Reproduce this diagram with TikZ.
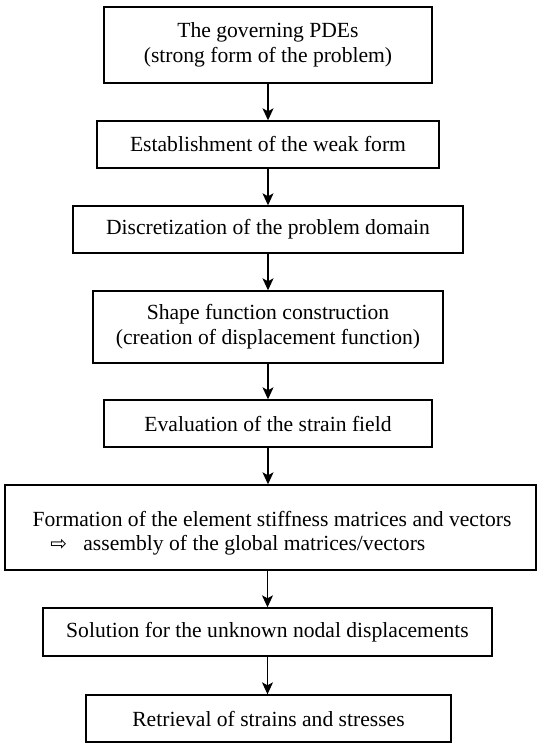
\documentclass[tikz,border=0pt]{standalone}
\usepackage{fontspec}
\setmainfont{Liberation Serif}
\newfontfamily\symfont{DejaVu Sans}
\usetikzlibrary{arrows.meta}
\begin{document}
\begin{tikzpicture}[x=0.5pt,y=-0.5pt,
  txt/.style={font=\fontsize{10.8}{12.5}\selectfont},
  box/.style={draw, line width=0.7pt, inner sep=0pt, align=center, txt},
  plain/.style={inner sep=0pt, txt},
  arr/.style={-{Stealth[length=6pt,width=5.5pt,inset=1.5pt]}, line width=0.6pt}]
\useasboundingbox (0,0) rectangle (541,744);
\node[box, minimum width=164pt, minimum height=38pt] (b1) at (268,45)
  {The governing PDEs\\(strong form of the problem)};
\node[box, minimum width=171pt, minimum height=23.5pt] (b2) at (268,144.5)
  {Establishment of the weak form};
\node[box, minimum width=195pt, minimum height=23.5pt] (b3) at (268,229.5)
  {Discretization of the problem domain};
\node[box, minimum width=175pt, minimum height=36pt] (b4) at (268,327)
  {Shape function construction\\(creation of displacement function)};
\node[box, minimum width=164pt, minimum height=23.5pt] (b5) at (268,423.5)
  {Evaluation of the strain field};
\node[box, minimum width=265.5pt, minimum height=42.5pt] (b6) at (270.5,527.5) {};
\node[plain, anchor=base] (f1) at (272,526)
  {Formation of the element stiffness matrices and vectors};
\node[inner sep=0pt, anchor=base west, font=\symfont\fontsize{10}{12}\selectfont] (f2) at (50,550) {⇨};
\node[plain, anchor=base west] (f3) at (83,550)
  {assembly of the global matrices/vectors};
\node[box, minimum width=224.5pt, minimum height=24pt] (b7) at (267.5,632)
  {Solution for the unknown nodal displacements};
\node[box, minimum width=182.5pt, minimum height=23.5pt] (b8) at (268.5,718.5)
  {Retrieval of strains and stresses};
\draw[arr] (b1.south) -- (b2.north);
\draw[arr] (b2.south) -- (b3.north);
\draw[arr] (b3.south) -- (b4.north);
\draw[arr] (b4.south) -- (b5.north);
\draw[arr] (b5.south) -- (b5.south |- b6.north);
\draw[arr] (b7.north |- b6.south) -- (b7.north);
\draw[arr] (b7.south) -- (b7.south |- b8.north);
\end{tikzpicture}
\end{document}
